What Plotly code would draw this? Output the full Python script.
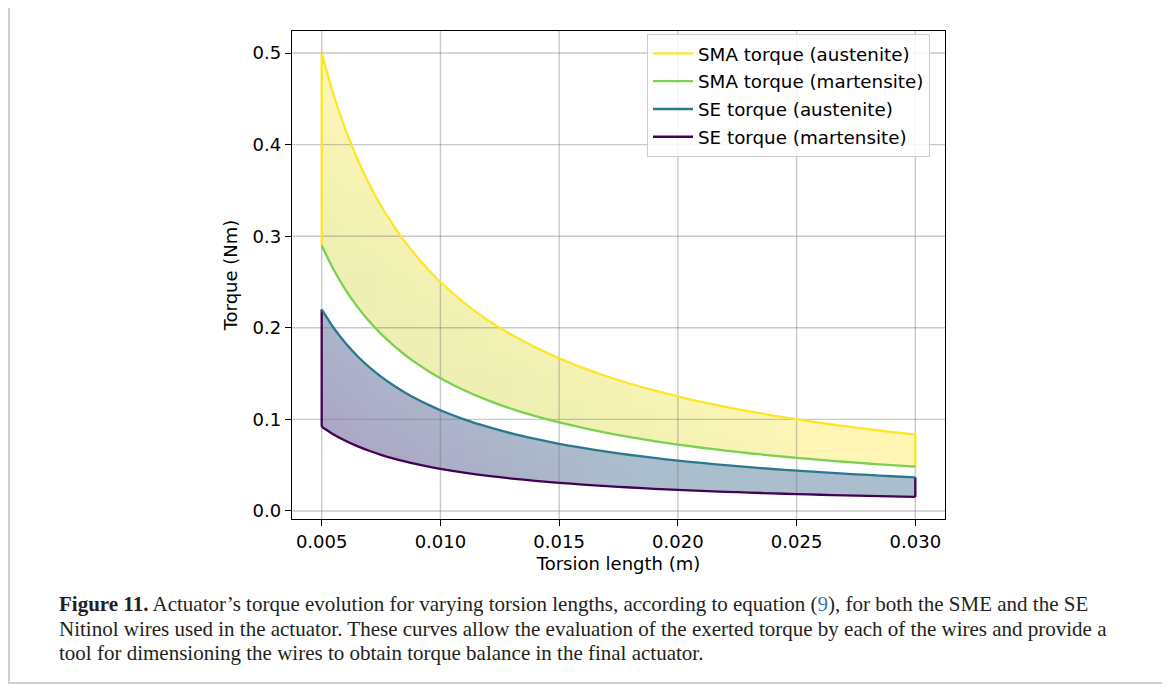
import plotly.graph_objects as go

# ---------------- data ----------------
torsion_length = [0.005, 0.0055, 0.006, 0.0065, 0.007, 0.0075, 0.008, 0.0085, 0.009,
                  0.0095, 0.010, 0.011, 0.012, 0.013, 0.014, 0.015, 0.016, 0.017,
                  0.018, 0.019, 0.020, 0.021, 0.022, 0.023, 0.024, 0.025, 0.026,
                  0.027, 0.028, 0.029, 0.030]
sma_austenite = [0.5000, 0.4545, 0.4167, 0.3846, 0.3571, 0.3333, 0.3125, 0.2941, 0.2778,
                 0.2632, 0.2500, 0.2273, 0.2083, 0.1923, 0.1786, 0.1667, 0.1563, 0.1471,
                 0.1389, 0.1316, 0.1250, 0.1190, 0.1136, 0.1087, 0.1042, 0.1000, 0.0962,
                 0.0926, 0.0893, 0.0862, 0.0833]
sma_martensite = [0.2900, 0.2636, 0.2417, 0.2231, 0.2071, 0.1933, 0.1813, 0.1706, 0.1611,
                  0.1526, 0.1450, 0.1318, 0.1208, 0.1115, 0.1036, 0.0967, 0.0906, 0.0853,
                  0.0806, 0.0763, 0.0725, 0.0690, 0.0659, 0.0630, 0.0604, 0.0580, 0.0558,
                  0.0537, 0.0518, 0.0500, 0.0483]
se_austenite = [0.2200, 0.2000, 0.1833, 0.1692, 0.1571, 0.1467, 0.1375, 0.1294, 0.1222,
                0.1158, 0.1100, 0.1000, 0.0917, 0.0846, 0.0786, 0.0733, 0.0688, 0.0647,
                0.0611, 0.0579, 0.0550, 0.0524, 0.0500, 0.0478, 0.0458, 0.0440, 0.0423,
                0.0407, 0.0393, 0.0379, 0.0367]
se_martensite = [0.0920, 0.0836, 0.0767, 0.0708, 0.0657, 0.0613, 0.0575, 0.0541, 0.0511,
                 0.0484, 0.0460, 0.0418, 0.0383, 0.0354, 0.0329, 0.0307, 0.0288, 0.0271,
                 0.0256, 0.0242, 0.0230, 0.0219, 0.0209, 0.0200, 0.0192, 0.0184, 0.0177,
                 0.0170, 0.0164, 0.0159, 0.0153]

series_names = ["SMA torque (austenite)", "SMA torque (martensite)",
                "SE torque (austenite)", "SE torque (martensite)"]
x_ticks = [0.005, 0.010, 0.015, 0.020, 0.025, 0.030]
x_tick_labels = ["0.005", "0.010", "0.015", "0.020", "0.025", "0.030"]
y_ticks = [0.0, 0.1, 0.2, 0.3, 0.4, 0.5]
y_tick_labels = ["0.0", "0.1", "0.2", "0.3", "0.4", "0.5"]

caption_lines = [
    "<b>Figure 11.</b> Actuator’s torque evolution for varying torsion lengths, according to equation (<span style='color:#2b7bb9'>9</span>), for both the SME and the SE",
    "Nitinol wires used in the actuator. These curves allow the evaluation of the exerted torque by each of the wires and provide a",
    "tool for dimensioning the wires to obtain torque balance in the final actuator.",
]

# ---------------- styles ----------------
C_YEL = "#fde725"
C_GRN = "#7ad151"
C_TEAL = "#2a788e"
C_PURP = "#440154"
XR = [0.00375, 0.03125]
YR = [-0.0088, 0.5241]

# page layout (the page has an 8px body margin)
OFF = 8
W, H = 1170 - OFF, 688 - OFF
PL, PR, PT, PB = 292, 945, 31, 519          # plot area in page pixels
L, T = PL - OFF, PT - OFF
R, B = W - (PR - OFF), H - (PB - OFF)
PW, PH = PR - PL, PB - PT


def px_to_paper_x(px):
    return (px - PL) / PW


def px_to_paper_y(py):
    return (PB - py) / PH


def lerp(c1, c2, s):
    s = max(0.0, min(1.0, s))
    return tuple(c1[k] + (c2[k] - c1[k]) * s for k in range(3))


def band_color(t, c_lo, c_hi, t0, t1):
    c = lerp(c_lo, c_hi, (t - t0) / (t1 - t0))
    return "rgb(%d,%d,%d)" % tuple(round(v) for v in c)


fig = go.Figure()


def add_band(top, bottom, c_lo, c_hi, t0, t1):
    n = len(torsion_length)
    for i in range(n - 1):
        j = min(i + 2, n - 1)
        xs = torsion_length[i:j + 1]
        xs = xs + xs[::-1]
        ys = top[i:j + 1] + bottom[i:j + 1][::-1]
        xm = 0.5 * (torsion_length[i] + torsion_length[i + 1])
        u = (xm - XR[0]) / (XR[1] - XR[0])
        stops = [k / 10 for k in range(11)]
        cs = [[v, band_color(u + v, c_lo, c_hi, t0, t1)] for v in stops]
        fig.add_trace(go.Scatter(
            x=xs, y=ys, mode="lines", fill="toself",
            line=dict(width=0),
            fillgradient=dict(type="vertical", colorscale=cs, start=YR[0], stop=YR[1]),
            showlegend=False, hoverinfo="skip"))


# yellow band (SMA) and blue band (SE)
add_band(sma_austenite, sma_martensite, (237, 240, 178), (255, 246, 182), 0.6, 1.0)
add_band(se_austenite, se_martensite, (172, 168, 198), (170, 190, 205), 0.25, 0.62)

# grid lines above fills, below curves
gx, gy = [], []
for xv in x_ticks:
    gx += [xv, xv, None]
    gy += [YR[0], YR[1], None]
for yv in y_ticks:
    gx += [XR[0], XR[1], None]
    gy += [yv, yv, None]
fig.add_trace(go.Scatter(x=gx, y=gy, mode="lines",
                         line=dict(color="rgba(120,120,120,0.40)", width=1.4),
                         showlegend=False, hoverinfo="skip"))

# band edges (vertical closing lines)
x0, x1 = torsion_length[0], torsion_length[-1]
fig.add_trace(go.Scatter(
    x=[x0, x0, None, x1, x1],
    y=[sma_martensite[0], sma_austenite[0], None, sma_martensite[-1], sma_austenite[-1]],
    mode="lines", line=dict(color=C_YEL, width=2.3), showlegend=False, hoverinfo="skip"))
fig.add_trace(go.Scatter(
    x=[x0, x0, None, x1, x1],
    y=[se_martensite[0], se_austenite[0], None, se_martensite[-1], se_austenite[-1]],
    mode="lines", line=dict(color=C_PURP, width=2.3), showlegend=False, hoverinfo="skip"))

# curves
for name, ys, col in zip(series_names,
                         [sma_austenite, sma_martensite, se_austenite, se_martensite],
                         [C_YEL, C_GRN, C_TEAL, C_PURP]):
    fig.add_trace(go.Scatter(x=torsion_length, y=ys, mode="lines", name=name,
                             legendgroup=name,
                             line=dict(color=col, width=2.3, shape="spline", smoothing=0.6)))

axis_common = dict(showline=True, mirror=True, linecolor="black", linewidth=1.3,
                   ticks="outside", ticklen=6, tickwidth=1.3, tickcolor="black",
                   showgrid=False, zeroline=False,
                   tickfont=dict(family="DejaVu Sans", size=18, color="black"))

fig.update_layout(
    width=W, height=H,
    margin=dict(l=L, r=R, t=T, b=B, autoexpand=False),
    paper_bgcolor="white", plot_bgcolor="white",
    font=dict(family="DejaVu Sans", size=18, color="black"),
    xaxis=dict(range=XR, tickvals=x_ticks, ticktext=x_tick_labels,
               title=dict(text="Torsion length (m)", standoff=6,
                          font=dict(family="DejaVu Sans", size=18)),
               **axis_common),
    yaxis=dict(range=YR, tickvals=y_ticks, ticktext=y_tick_labels,
               title=dict(text="Torque (Nm)", standoff=10,
                          font=dict(family="DejaVu Sans", size=18)),
               **axis_common),
    legend=dict(x=px_to_paper_x(647), y=px_to_paper_y(34), xanchor="left", yanchor="top",
                bgcolor="rgba(255,255,255,0.85)", bordercolor="#cccccc", borderwidth=1,
                font=dict(family="DejaVu Sans", size=18.3, color="black"),
                tracegroupgap=1, itemwidth=40),
    showlegend=True,
)

# caption
for k, line in enumerate(caption_lines):
    fig.add_annotation(text=line, xref="paper", yref="paper",
                       x=px_to_paper_x(57), y=px_to_paper_y(604 + 24.5 * k),
                       xanchor="left", yanchor="middle", showarrow=False,
                       font=dict(family="Liberation Serif", size=21, color="#231f20"))

# outer frame of the figure panel (left, bottom, right sides)
fx0, fx1 = px_to_paper_x(9), px_to_paper_x(1163)
fy0, fy1 = px_to_paper_y(683), px_to_paper_y(OFF)
fig.add_shape(type="path", xref="paper", yref="paper",
              path="M %f %f L %f %f L %f %f L %f %f" % (fx0, fy1, fx0, fy0, fx1, fy0, fx1, fy1),
              line=dict(color="#cfcfcf", width=2), layer="below")

fig.write_html("out.html")
